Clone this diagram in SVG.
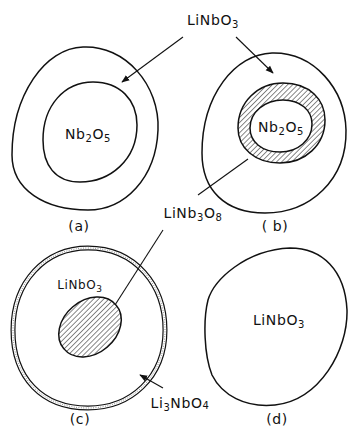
<svg xmlns="http://www.w3.org/2000/svg" width="348" height="429" viewBox="0 0 348 429">
<defs>
<style>
.o{fill:none;stroke:#111;stroke-width:1.5;stroke-linejoin:round}
.h{fill:url(#hatch);stroke:#111;stroke-width:1.5}
.w{fill:#fff;stroke:#111;stroke-width:1.5}
.l{fill:none;stroke:#111;stroke-width:1.1}
text{font-family:"DejaVu Sans","Liberation Sans",sans-serif;font-size:14px;letter-spacing:0.6px;fill:#111}
.s{font-size:10px}
</style>
<pattern id="hatch" patternUnits="userSpaceOnUse" width="3.6" height="3.6" patternTransform="rotate(45)">
<rect width="3.6" height="3.6" fill="#fff"/>
<line x1="0" y1="0" x2="0" y2="3.6" stroke="#111" stroke-width="1"/>
</pattern>
<marker id="ah" viewBox="0 0 10 10" refX="9" refY="5" markerWidth="8" markerHeight="8" markerUnits="userSpaceOnUse" orient="auto">
<path d="M0,1 L10,5 L0,9 Z" fill="#111"/>
</marker>
</defs>
<rect width="348" height="429" fill="#fff"/>

<g id="node-a">
<path class="o" d="M83,47 C125,45 160,85 158,130 C156,178 125,210 88,210 C45,210 12,190 12,155 C12,95 45,48 83,47 Z"/>
<path class="o" d="M93,82 C120,82 137,100 137,125 C137,160 110,182 80,182 C55,182 43,165 43,140 C43,105 65,82 93,82 Z"/>
<text x="88" y="139" text-anchor="middle">Nb<tspan class="s" dy="3">2</tspan><tspan dy="-3">O</tspan><tspan class="s" dy="3">5</tspan></text>
<text x="79" y="231" text-anchor="middle">(a)</text>
</g>

<g id="node-b">
<path class="o" d="M272,53 C315,52 345,90 346,130 C347,180 310,213 265,213 C225,213 202,190 202,153 C202,95 235,54 272,53 Z"/>
<path class="h" d="M283,83 C310,83 325,100 325,120 C325,145 305,163 280,163 C255,163 238,148 238,128 C238,102 258,83 283,83 Z"/>
<path class="w" d="M283,100 C300,100 312,110 312,124 C312,140 298,152 280,152 C262,152 250,142 250,128 C250,112 265,100 283,100 Z"/>
<text x="281" y="132" text-anchor="middle">Nb<tspan class="s" dy="3">2</tspan><tspan dy="-3">O</tspan><tspan class="s" dy="3">5</tspan></text>
<text x="275" y="231" text-anchor="middle">( b)</text>
</g>

<g id="node-c">
<path fill="none" stroke="#111" stroke-width="5" d="M88,248 C135,248 165,285 165,330 C165,378 130,408 88,408 C42,408 13,378 13,330 C13,282 45,248 88,248 Z"/>
<path fill="none" stroke="#fff" stroke-width="2.6" d="M88,248 C135,248 165,285 165,330 C165,378 130,408 88,408 C42,408 13,378 13,330 C13,282 45,248 88,248 Z"/>
<path fill="none" stroke="#777" stroke-width="1" stroke-dasharray="0.8 1.6" d="M88,248 C135,248 165,285 165,330 C165,378 130,408 88,408 C42,408 13,378 13,330 C13,282 45,248 88,248 Z"/>
<path class="h" d="M116,305.1 A34 26 -40 1 1 64,348.9 A34 26 -40 1 1 116,305.1 Z"/>
<text x="80" y="289" text-anchor="middle" style="font-size:12px">LiNbO<tspan style="font-size:9px" dy="3">3</tspan></text>
<text x="80" y="424" text-anchor="middle">(c)</text>
</g>

<g id="node-d">
<path class="o" d="M290,248 C322,248 345,270 347,310 C348,350 320,400 275,405 C245,408 222,395 212,375 C204,355 203,320 208,300 C214,280 245,250 290,248 Z"/>
<text x="279" y="325" text-anchor="middle">LiNbO<tspan class="s" dy="3">3</tspan></text>
<text x="277" y="424" text-anchor="middle">(d)</text>
</g>

<g id="labels">
<text x="213" y="25" text-anchor="middle">LiNbO<tspan class="s" dy="3">3</tspan></text>
<text x="193" y="218" text-anchor="middle">LiNb<tspan class="s" dy="3">3</tspan><tspan dy="-3">O</tspan><tspan class="s" dy="3">8</tspan></text>
<text x="180" y="408" text-anchor="middle">Li<tspan class="s" dy="3">3</tspan><tspan dy="-3">NbO</tspan><tspan class="s" dy="1">4</tspan></text>
</g>

<g id="connectors">
<line class="l" x1="183" y1="37" x2="122" y2="82" marker-end="url(#ah)"/>
<line class="l" x1="236" y1="37" x2="273" y2="73" marker-end="url(#ah)"/>
<line class="l" x1="198" y1="195" x2="248" y2="159"/>
<line class="l" x1="163" y1="230" x2="115" y2="305"/>
<line class="l" x1="163" y1="388" x2="140" y2="375" marker-end="url(#ah)"/>
</g>
</svg>
